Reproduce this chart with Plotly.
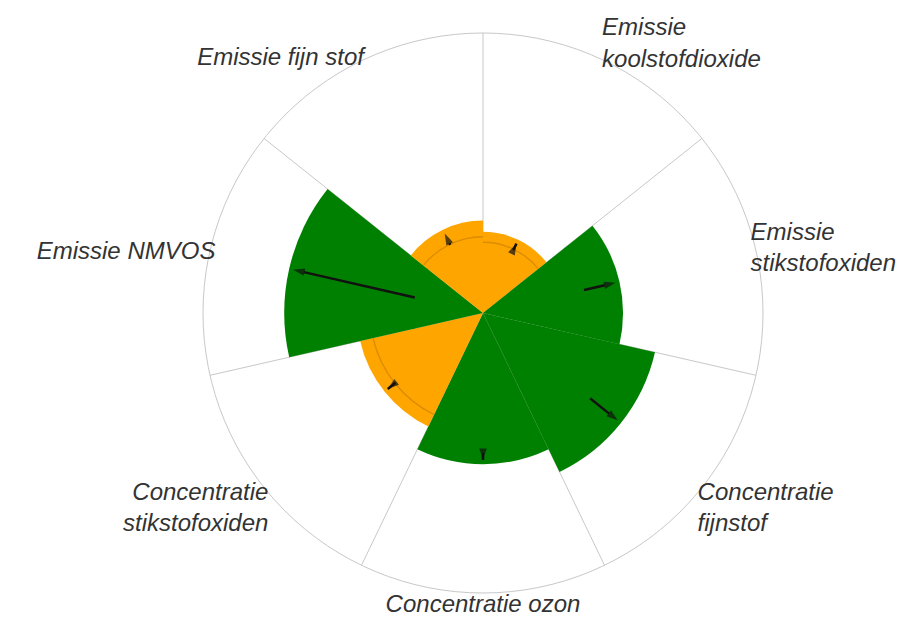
import plotly.graph_objects as go

# ---- data ----
categories = ["Emissie koolstofdioxide", "Emissie stikstofoxiden", "Concentratie fijnstof",
              "Concentratie ozon", "Concentratie stikstofoxiden", "Emissie NMVOS", "Emissie fijn stof"]
tick_labels = ["Emissie<br>koolstofdioxide", "Emissie<br>stikstofoxiden", "Concentratie<br>fijnstof",
               "Concentratie ozon", "Concentratie<br>stikstofoxiden", "Emissie NMVOS", "Emissie fijn stof"]
current_values = [29, 50, 63, 54, 45, 71, 33]
previous_values = [25, 37, 49, 50, 40, 25, 27]
status = ["oranje", "groen", "groen", "groen", "oranje", "groen", "oranje"]

# ---- styling ----
fill_colors = {"oranje": "#FFA500", "groen": "#008000"}
ring_colors = {"oranje": "#DC8C00", "groen": "#008000"}
n = len(categories)
sector = 360 / n
centers = [i * sector + sector / 2 for i in range(n)]
boundaries = [i * sector for i in range(n)]

fig = go.Figure()

fig.add_trace(go.Barpolar(
    r=current_values, theta=centers, width=[sector] * n,
    marker=dict(color=[fill_colors[s] for s in status], line=dict(width=0)),
    hovertext=categories, hoverinfo="text+r", subplot="polar", showlegend=False))

fig.add_trace(go.Barpolar(
    r=[0.5] * n, base=previous_values, theta=centers, width=[sector] * n,
    marker=dict(color=[ring_colors[s] for s in status], line=dict(width=0)),
    hoverinfo="skip", subplot="polar", showlegend=False))

for i in range(n):
    fig.add_trace(go.Scatterpolar(
        r=[previous_values[i], current_values[i] - 1.5], theta=[centers[i], centers[i]],
        mode="lines+markers",
        line=dict(color="#111111", width=2.5),
        marker=dict(symbol=["circle", "arrow"], size=[0, 12], angleref="previous",
                    color="#111111", line=dict(width=0)),
        hoverinfo="skip", subplot="polar", showlegend=False))

# invisible trace to render label subplot
fig.add_trace(go.Scatterpolar(r=[0], theta=[0], mode="markers", marker=dict(opacity=0),
                              hoverinfo="skip", subplot="polar2", showlegend=False))

W, H = 923, 617
cx, cy, R = 483, 313, 280
R2 = 274
dom_x = [(cx - R) / W, (cx + R) / W]
dom_y = [(H - cy - R) / H, (H - cy + R) / H]
dom2_x = [(cx - R2) / W, (cx + R2) / W]
dom2_y = [(H - cy - R2) / H, (H - cy + R2) / H]

fig.update_layout(
    width=W, height=H,
    margin=dict(l=0, r=0, t=0, b=0),
    paper_bgcolor="white",
    polar=dict(
        domain=dict(x=dom_x, y=dom_y),
        bgcolor="white",
        bargap=0,
        radialaxis=dict(visible=False, range=[0, 100]),
        angularaxis=dict(direction="clockwise", rotation=90, tickmode="array",
                         tickvals=boundaries, showticklabels=False, ticks="",
                         showgrid=True, gridcolor="#c8c8c8", gridwidth=1,
                         showline=True, linecolor="#c8c8c8", linewidth=1),
    ),
    polar2=dict(
        domain=dict(x=dom2_x, y=dom2_y),
        bgcolor="rgba(0,0,0,0)",
        radialaxis=dict(visible=False, range=[0, 100]),
        angularaxis=dict(direction="clockwise", rotation=90, tickmode="array",
                         tickvals=centers, ticktext=tick_labels, ticks="",
                         showgrid=False, showline=False,
                         tickfont=dict(family="Liberation Sans, Arial, sans-serif", size=24,
                                       color="#333333", style="italic")),
    ),
)

fig.write_html("out.html", config={"displayModeBar": False},
               post_script="document.body.style.margin='0';")
